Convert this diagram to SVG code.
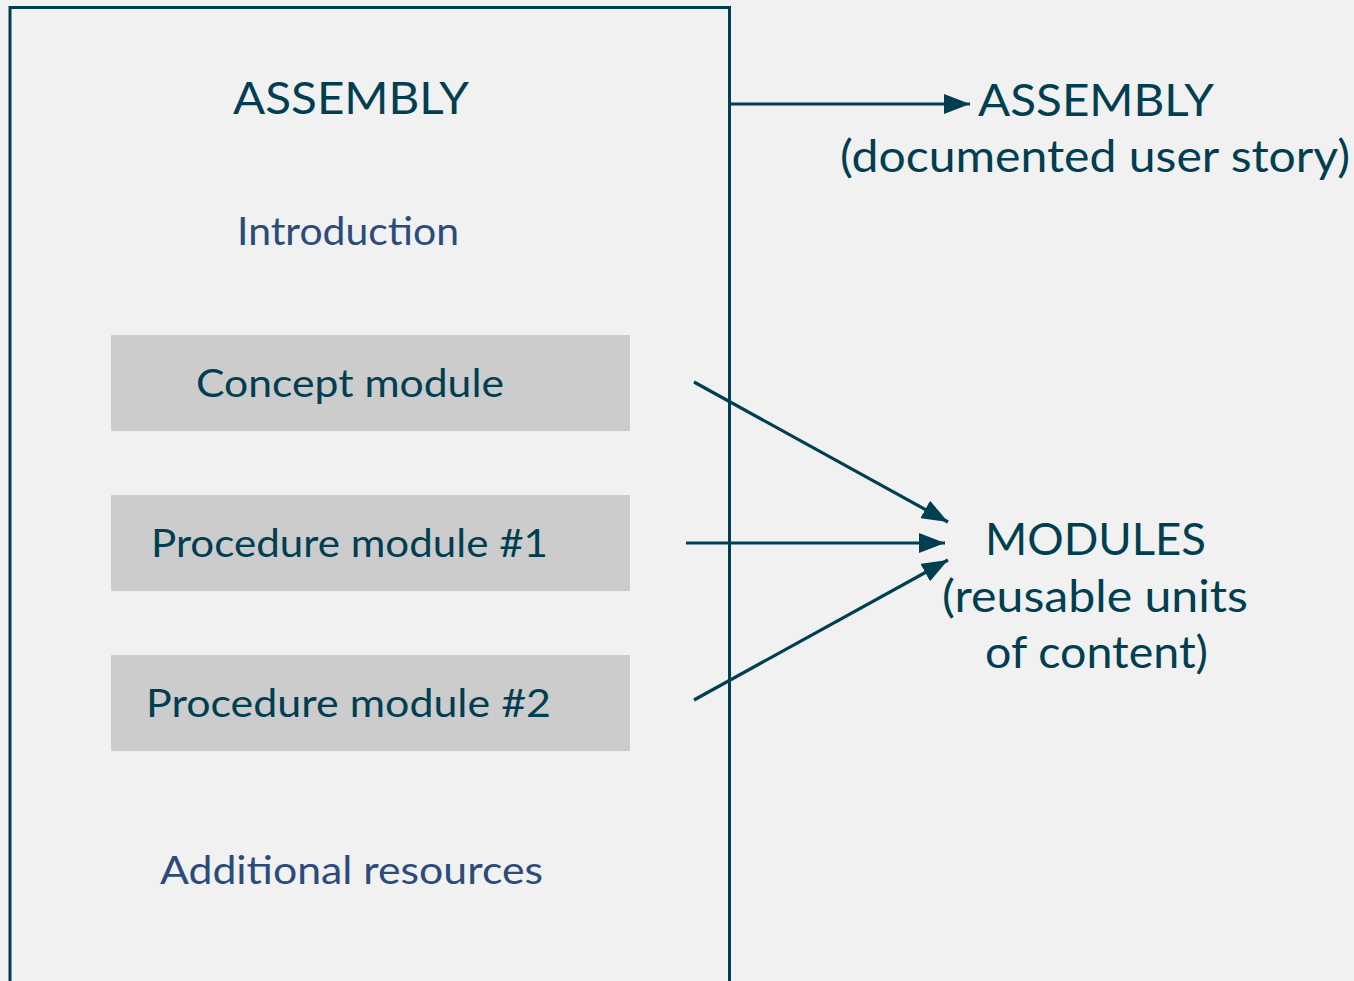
<svg xmlns="http://www.w3.org/2000/svg" width="1354" height="981" viewBox="0 0 1354 981">
<style>
text{font-family:Lato,"Open Sans","Liberation Sans",sans-serif;fill:#003f52;text-anchor:middle}
.big{font-size:44px}
.sec{font-size:38px;fill:#2a4b7c}
.mod{font-size:38px}
.box{fill:#cccccc}
.conn{stroke:#003f52;stroke-width:3.2;fill:none;marker-end:url(#ah)}
</style>
<defs>
<marker id="ah" viewBox="0 0 26 20" refX="26" refY="10" markerWidth="26" markerHeight="20" orient="auto" markerUnits="userSpaceOnUse">
<path d="M0,0 L26,10 L0,20 Z" fill="#003f52"/>
</marker>
</defs>
<rect x="0" y="0" width="1354" height="981" fill="#f1f1f1"/>
<g id="assembly">
<path d="M10,981 V7.5 H729.5 V981" fill="none" stroke="#003f52" stroke-width="3"/>
<text class="big" x="351" y="114" textLength="236" lengthAdjust="spacingAndGlyphs">ASSEMBLY</text>
</g>
<g id="introduction"><text class="sec" x="348" y="245" textLength="222" lengthAdjust="spacingAndGlyphs">Introduction</text></g>
<g id="concept"><rect class="box" x="111" y="335" width="519" height="96"/><text class="mod" x="350" y="397" textLength="308" lengthAdjust="spacingAndGlyphs">Concept module</text></g>
<g id="proc1"><rect class="box" x="111" y="495" width="519" height="96"/><text class="mod" x="349.5" y="557" textLength="397" lengthAdjust="spacingAndGlyphs">Procedure module #1</text></g>
<g id="proc2"><rect class="box" x="111" y="655" width="519" height="96"/><text class="mod" x="348.5" y="717" textLength="405" lengthAdjust="spacingAndGlyphs">Procedure module #2</text></g>
<g id="additional"><text class="sec" x="351.5" y="884" textLength="383" lengthAdjust="spacingAndGlyphs">Additional resources</text></g>
<g id="assembly-label"><text class="big" x="1096" y="116" textLength="236" lengthAdjust="spacingAndGlyphs">ASSEMBLY</text><text class="big" x="1095" y="172" textLength="510" lengthAdjust="spacingAndGlyphs">(documented user story)</text></g>
<g id="modules-label"><text class="big" x="1095.5" y="555" textLength="221" lengthAdjust="spacingAndGlyphs">MODULES</text><text class="big" x="1095" y="612" textLength="306" lengthAdjust="spacingAndGlyphs">(reusable units</text><text class="big" x="1096.5" y="668" textLength="223" lengthAdjust="spacingAndGlyphs">of content)</text></g>
<g id="connectors">
<line class="conn" x1="729" y1="104" x2="970" y2="104"/>
<line class="conn" x1="694" y1="382" x2="948" y2="522"/>
<line class="conn" x1="686" y1="543" x2="945" y2="543"/>
<line class="conn" x1="694" y1="700" x2="948" y2="560"/>
</g>
</svg>
